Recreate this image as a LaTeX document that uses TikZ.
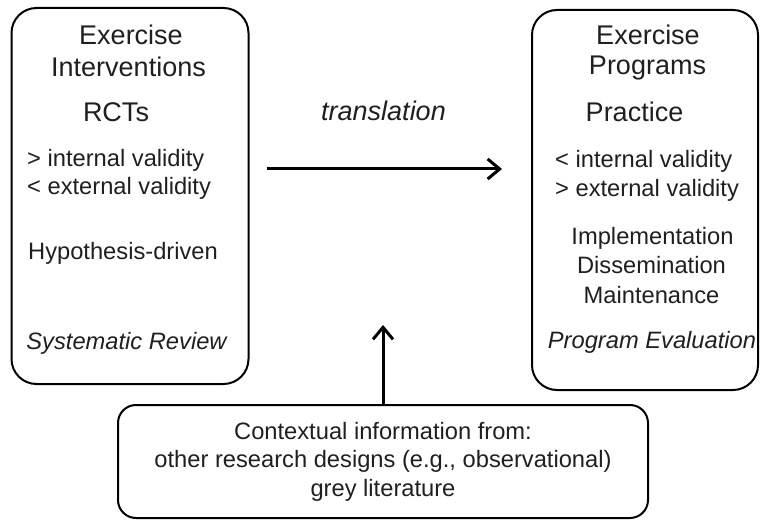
\documentclass[tikz,border=0pt]{standalone}
\usepackage{fontspec}
\setmainfont{Liberation Sans}
\usetikzlibrary{positioning}
\usetikzlibrary{calc}
\usetikzlibrary{arrows.meta}
\definecolor{ink}{gray}{.12}
\newcommand{\boxline}{2pt}
\newcommand{\fsize}{\fontsize{23.7}{28.5}\selectfont}
\newcommand{\tsize}{\fontsize{27}{32}\selectfont}
\tikzset{
    common/.style={text=ink, inner sep=0pt, font=\fsize},
    txt/.style={common, anchor=base},
    ltxt/.style={common, anchor=base west},
    ttl/.style={txt, font=\tsize},
    frame/.style={draw, line width=\boxline, rounded corners=25pt},
    flow/.style={line width=3pt, line join=round, -{Straight Barb[length=12pt,width=20pt]}},
}
\begin{document}
\begin{tikzpicture}[x=1pt, y=-1pt]
          \useasboundingbox (0,0) rectangle (760,521);

          % boxes
          \node[frame, minimum width=237pt, minimum height=376pt] (L-box) at (130,196) {};
          \node[frame, minimum width=226pt, minimum height=380pt] (R-box) at (645,200) {};
          \node[frame, common, rounded corners=18pt, align=center,
                minimum width=530pt, minimum height=113pt] (C-box) at (383,461.5)
                {Contextual information from:\\other research designs (e.g., observational)\\grey literature};

          % left
          \node[ttl] (L-title1) at (131,45) {Exercise};
          \node[ttl] (L-title2) at (128.5,77) {Interventions};
          \node[ttl] (L-rct) at (116,122) {RCTs};
          \node[ltxt] (L-int) at (27,167) {> internal validity};
          \node[ltxt] (L-ext) at (27,195) {< external validity};
          \node[txt] (L-hyp) at (123,260) {Hypothesis-driven};
          \node[txt] (L-rev) at (126.5,349) {\itshape Systematic Review};

          % right
          \node[ttl] (R-title1) at (648,45) {Exercise};
          \node[ttl] (R-title2) at (647.5,75) {Programs};
          \node[ttl] (R-prac) at (634.5,122) {Practice};
          \node[ltxt] (R-int) at (555,168) {< internal validity};
          \node[ltxt] (R-ext) at (555,197) {> external validity};
          \node[txt] (R-imp) at (652.5,245) {Implementation};
          \node[txt] (R-dis) at (651.5,274) {Dissemination};
          \node[txt] (R-mai) at (651.5,303) {Maintenance};
          \node[txt] (R-eval) at (652,348) {\itshape Program Evaluation};

          % connectors
          \coordinate (mid) at (383,169);
          \coordinate (tip) at (383,325);
          \node[ttl] (trans) at (383.5,121) {\itshape translation};
          \draw[flow, shorten <=17pt, shorten >=29pt] (L-box.east |- mid) -- (R-box.west |- mid);
          \draw[flow] (C-box.north) -- (tip);

\end{tikzpicture}
\end{document}
